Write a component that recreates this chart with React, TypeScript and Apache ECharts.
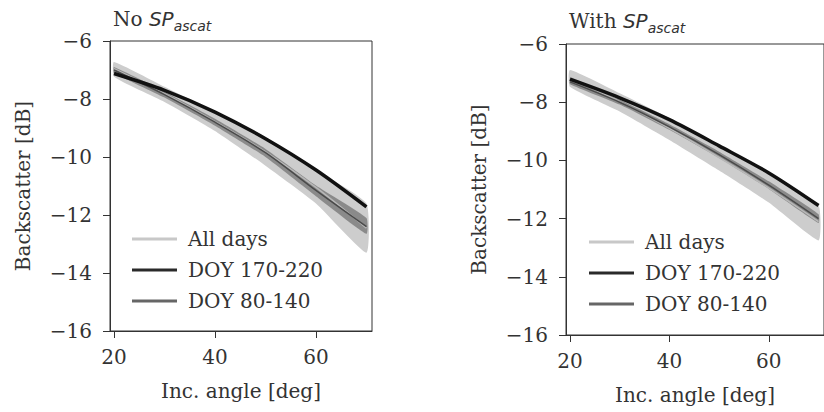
import React, { useEffect, useRef } from "react";
import * as echarts from "echarts";

// Incidence angles [deg]
const angles = [20, 30, 40, 50, 60, 70];

// Left panel: No SP_ascat
const leftAllHigh = [-6.72, -7.58, -8.45, -9.31, -10.45, -11.6];
const leftAllLow = [-7.23, -8.1, -9.1, -10.3, -11.6, -13.3];
const leftAllMid = [-6.95, -7.82, -8.78, -9.82, -11.05, -12.45];
const leftSummer = [-7.12, -7.7, -8.45, -9.37, -10.45, -11.72];
const leftSpring = [-7.0, -7.85, -8.8, -9.85, -11.15, -12.4];
const leftSpringHigh = [-6.9, -7.75, -8.68, -9.72, -10.98, -12.1];
const leftSpringLow = [-7.1, -7.95, -8.92, -10.0, -11.35, -12.65];

// Right panel: With SP_ascat
const rightAllHigh = [-6.89, -7.69, -8.54, -9.45, -10.45, -11.55];
const rightAllLow = [-7.47, -8.32, -9.3, -10.35, -11.45, -12.75];
const rightAllMid = [-7.15, -7.98, -8.9, -9.9, -10.95, -12.1];
const rightSummer = [-7.21, -7.85, -8.6, -9.5, -10.43, -11.55];
const rightSpring = [-7.3, -8.0, -8.85, -9.8, -10.85, -12.0];
const rightSpringHigh = [-7.22, -7.92, -8.76, -9.7, -10.72, -11.85];
const rightSpringLow = [-7.38, -8.08, -8.95, -9.92, -10.98, -12.15];

const yTicks = { min: -16, max: -6, interval: 2 };
const xTickValues = [20, 40, 60];
const legendNames = ["All days", "DOY 170-220", "DOY 80-140"];
const titles = [
  { plain: "No ", sub: "ascat" },
  { plain: "With ", sub: "ascat" },
];

const FONT = "DejaVu Serif";
const TXT = "#333333";

const pairs = (ys: number[]) => angles.map((a, i) => [a, ys[i]]);

function band(g: number, name: string, lo: number[], hi: number[], color: string, opacity: number) {
  return {
    type: "custom",
    name,
    xAxisIndex: g,
    yAxisIndex: g,
    silent: true,
    clip: true,
    data: angles.map((a, i) => [a, lo[i], hi[i]]),
    renderItem: (params: any, api: any) => {
      if (params.dataIndex !== 0) return null;
      const top = angles.map((a, i) => api.coord([a, hi[i]]));
      const bottom = angles.map((a, i) => api.coord([a, lo[i]])).reverse();
      return {
        type: "group",
        children: [
          {
            type: "polyline",
            shape: { points: top, smooth: 0.3 },
            style: { stroke: "none", fill: "none" },
          },
          {
            type: "polygon",
            shape: { points: top.concat(bottom), smooth: 0.15 },
            style: { fill: color, opacity, stroke: "none" },
          },
        ],
      };
    },
  };
}

function line(g: number, name: string, ys: number[], color: string, width: number) {
  return {
    type: "line",
    name,
    xAxisIndex: g,
    yAxisIndex: g,
    data: pairs(ys),
    showSymbol: false,
    symbol: "none",
    smooth: 0.3,
    lineStyle: { color, width },
    itemStyle: { color },
  };
}

function xAxis(g: number) {
  return {
    gridIndex: g,
    type: "value",
    min: 19.2,
    max: 71.1,
    splitLine: { show: false },
    axisLine: { show: true, lineStyle: { color: TXT, width: 1 } },
    axisTick: { show: true, length: 7, lineStyle: { color: TXT }, customValues: xTickValues },
    axisLabel: {
      customValues: xTickValues,
      fontSize: 20,
      fontFamily: FONT,
      color: TXT,
      margin: 16,
    },
    name: "Inc. angle [deg]",
    nameLocation: "middle",
    nameGap: 50,
    nameTextStyle: { fontSize: 20, fontFamily: FONT, color: TXT },
  };
}

function yAxis(g: number) {
  return {
    gridIndex: g,
    type: "value",
    ...yTicks,
    splitLine: { show: false },
    axisLine: { show: true, lineStyle: { color: TXT, width: 1 } },
    axisTick: { show: true, length: 7, lineStyle: { color: TXT } },
    axisLabel: {
      fontSize: 20,
      fontFamily: FONT,
      color: TXT,
      margin: 18,
      formatter: (v: number) => (v < 0 ? "\u2212" + Math.abs(v) : String(v)),
    },
    name: "Backscatter [dB]",
    nameLocation: "middle",
    nameRotate: 90,
    nameGap: 77,
    nameTextStyle: { fontSize: 20, fontFamily: FONT, color: TXT },
  };
}

function legend(left: number, top: number) {
  const colors = ["#c8c8c8", "#2a2a2a", "#666666"];
  return {
    orient: "vertical",
    left,
    top,
    itemWidth: 45,
    itemHeight: 3,
    itemGap: 9,
    icon: "rect",
    selectedMode: false,
    textStyle: {
      fontSize: 20,
      fontFamily: FONT,
      color: TXT,
      lineHeight: 22,
      padding: [0, 0, 0, 6],
    },
    data: legendNames.map((n, i) => ({ name: n, icon: "rect", itemStyle: { color: colors[i] } })),
  };
}

function title(i: number, left: number, top: number) {
  const t = titles[i];
  const base = { color: TXT, fontWeight: "normal", lineHeight: 26, verticalAlign: "bottom" };
  return {
    left,
    top,
    text: `{n|${t.plain}}{sp|SP}{sub|${t.sub}}`,
    textStyle: {
      fontWeight: "normal",
      rich: {
        n: { ...base, fontFamily: FONT, fontSize: 20 },
        sp: { ...base, fontFamily: "DejaVu Sans", fontStyle: "italic", fontSize: 20 },
        sub: {
          ...base,
          fontFamily: "DejaVu Sans",
          fontStyle: "italic",
          fontSize: 14,
          lineHeight: 20,
          padding: [0, 0, -4, 0],
        },
      },
    },
  };
}

export default function App() {
  const ref = useRef<HTMLDivElement>(null);
  useEffect(() => {
    if (!ref.current) return;
    const chart = echarts.init(ref.current, null, { renderer: "svg" });
    const series: any[] = [
      band(0, "allL", leftAllLow, leftAllHigh, "#cdcdcd", 1),
      line(0, "All days", leftAllMid, "#b8b8b8", 1.5),
      band(0, "springL", leftSpringLow, leftSpringHigh, "#6e6e6e", 0.7),
      line(0, "DOY 80-140", leftSpring, "#4a4a4a", 1.5),
      line(0, "DOY 170-220", leftSummer, "#111111", 3.5),
      band(1, "allR", rightAllLow, rightAllHigh, "#cdcdcd", 1),
      line(1, "All days", rightAllMid, "#b8b8b8", 1.5),
      band(1, "springR", rightSpringLow, rightSpringHigh, "#6e6e6e", 0.7),
      line(1, "DOY 80-140", rightSpring, "#4a4a4a", 1.5),
      line(1, "DOY 170-220", rightSummer, "#111111", 3.5),
    ];
    chart.setOption({
      animation: false,
      backgroundColor: "#ffffff",
      title: [title(0, 108, -2), title(1, 564, 0)],
      grid: [
        { left: 110, top: 41, width: 262, height: 290, show: true, borderColor: TXT, borderWidth: 1, backgroundColor: "transparent" },
        { left: 566, top: 44, width: 263, height: 291, show: true, borderColor: TXT, borderWidth: 1, backgroundColor: "transparent" },
      ],
      xAxis: [xAxis(0), xAxis(1)],
      yAxis: [yAxis(0), yAxis(1)],
      legend: [legend(127, 223), legend(584, 226)],
      series,
    });
    return () => chart.dispose();
  }, []);
  return (
    <div
      ref={ref}
      style={{ position: "absolute", left: 0, top: 0, width: 824, height: 412, background: "#fff" }}
    />
  );
}
